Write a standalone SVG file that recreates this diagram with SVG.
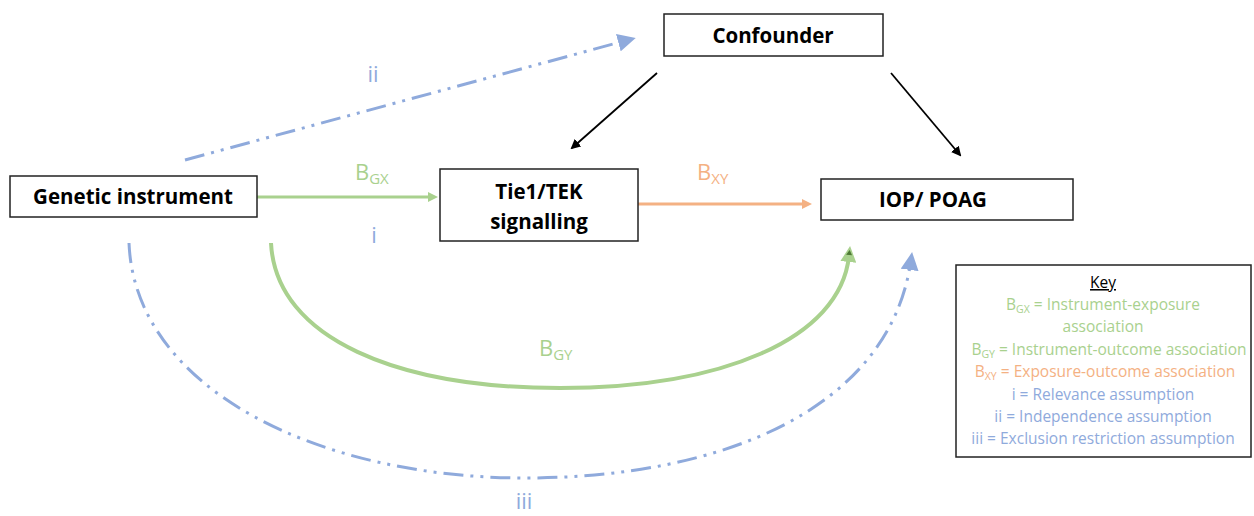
<svg xmlns="http://www.w3.org/2000/svg" width="1254" height="516" viewBox="0 0 1254 516">
<style>
.box{fill:#fff;stroke:#222;stroke-width:1.5}
.nt{font-family:"Open Sans","Liberation Sans",sans-serif;font-weight:bold;font-size:20.5px;fill:#000;text-anchor:middle}
.lbl{font-family:"Open Sans","Liberation Sans",sans-serif;font-size:22px}
.key{font-family:"Open Sans","Liberation Sans",sans-serif;font-size:15.5px;text-anchor:middle}
.g{fill:#a9d18e}.o{fill:#f4b183}.b{fill:#8faadc}
.blue{fill:none;stroke:#8faadc;stroke-width:3;stroke-dasharray:20 7 3 7 3 7}
</style>
<defs>
<marker id="ag" markerWidth="10" markerHeight="10" refX="6" refY="5" orient="auto" markerUnits="userSpaceOnUse"><path d="M0,0 L10,5 L0,10 z" fill="#a9d18e"/></marker>
<marker id="ao" markerWidth="10" markerHeight="10" refX="6" refY="5" orient="auto" markerUnits="userSpaceOnUse"><path d="M0,0 L10,5 L0,10 z" fill="#f4b183"/></marker>
<marker id="ak" markerWidth="10" markerHeight="10" refX="8" refY="5" orient="auto" markerUnits="userSpaceOnUse"><path d="M0,0 L10,5 L0,10 z" fill="#000"/></marker>
<marker id="ab" markerWidth="18" markerHeight="18" refX="10" refY="9" orient="auto" markerUnits="userSpaceOnUse"><path d="M0,0 L18,9 L0,18 z" fill="#8faadc"/></marker>
<marker id="ag2" markerWidth="16" markerHeight="16" refX="6" refY="8" orient="auto" markerUnits="userSpaceOnUse"><path d="M0,0 L16,8 L0,16 z" fill="#a9d18e"/><path d="M7,5 L12,8 L7,11 z" fill="#4e7a34"/></marker>
</defs>
<g id="connectors">
<line x1="257" y1="197" x2="434" y2="197" stroke="#a9d18e" stroke-width="3" marker-end="url(#ag)"/>
<line x1="638" y1="204" x2="808" y2="204" stroke="#f4b183" stroke-width="3" marker-end="url(#ao)"/>
<line x1="657" y1="73" x2="572" y2="148" stroke="#000" stroke-width="1.8" marker-end="url(#ak)"/>
<line x1="891" y1="73" x2="960" y2="155" stroke="#000" stroke-width="1.8" marker-end="url(#ak)"/>
<line x1="185" y1="160" x2="628" y2="40" class="blue" marker-end="url(#ab)"/>
<path d="M271,243 C276,340 400,388 560,388 C720,388 840,340 849,256" fill="none" stroke="#a9d18e" stroke-width="4" marker-end="url(#ag2)"/>
<path d="M129,243 C135,390 320,478 525,478 C720,478 890,410 911,260" class="blue" marker-end="url(#ab)"/>
</g>
<g id="labels">
<text class="lbl g" x="355" y="180">B<tspan font-size="15" dy="4">GX</tspan></text>
<text class="lbl o" x="697" y="180">B<tspan font-size="15" dy="4">XY</tspan></text>
<text class="lbl g" x="539" y="356">B<tspan font-size="15" dy="4">GY</tspan></text>
<text class="lbl b" x="374" y="243" text-anchor="middle">i</text>
<text class="lbl b" x="373" y="82" text-anchor="middle">ii</text>
<text class="lbl b" x="524" y="509" text-anchor="middle" font-size="20">iii</text>
</g>
<g id="genetic">
<rect class="box" x="10" y="176" width="247" height="41"/>
<text class="nt" x="133" y="204">Genetic instrument</text>
</g>
<g id="tie1">
<rect class="box" x="440" y="169" width="198" height="72"/>
<text class="nt" x="539" y="199">Tie1/TEK</text>
<text class="nt" x="539" y="229">signalling</text>
</g>
<g id="confounder">
<rect class="box" x="664" y="14" width="219" height="42"/>
<text class="nt" x="773" y="43">Confounder</text>
</g>
<g id="iop">
<rect class="box" x="821" y="179" width="252" height="41"/>
<text class="nt" x="933" y="207">IOP/ POAG</text>
</g>
<g id="key">
<rect class="box" x="956" y="265" width="295" height="192"/>
<text class="key" x="1103" y="288" fill="#000" text-decoration="underline">Key</text>
<text class="key g" x="1103" y="310">B<tspan font-size="10.5" dy="3">GX</tspan><tspan dy="-3"> = Instrument-exposure</tspan></text>
<text class="key g" x="1103" y="332">association</text>
<text class="key g" x="1109" y="355">B<tspan font-size="10.5" dy="3">GY</tspan><tspan dy="-3"> = Instrument-outcome association</tspan></text>
<text class="key o" x="1105" y="377">B<tspan font-size="10.5" dy="3">XY</tspan><tspan dy="-3"> = Exposure-outcome association</tspan></text>
<text class="key b" x="1103" y="400">i = Relevance assumption</text>
<text class="key b" x="1103" y="422">ii = Independence assumption</text>
<text class="key b" x="1103" y="444">iii = Exclusion restriction assumption</text>
</g>
</svg>
